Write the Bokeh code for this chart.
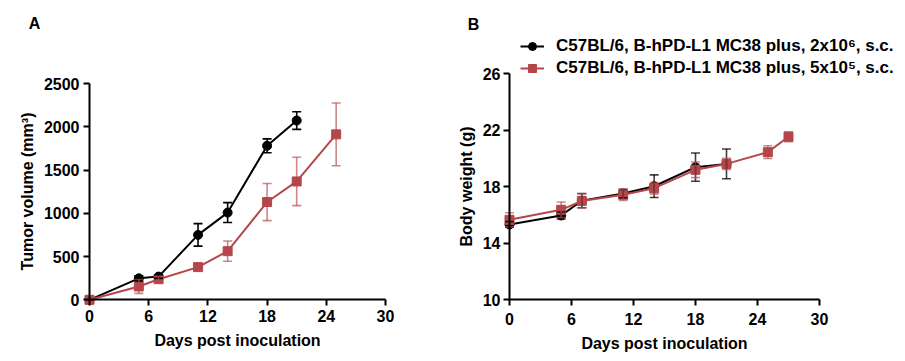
from bokeh.plotting import figure
from bokeh.models import (ColumnDataSource, Whisker, TeeHead, FixedTicker, Range1d,
                          Legend, LegendItem, Label, LinearAxis)
from bokeh.layouts import row
from bokeh.embed import file_html
from bokeh.resources import INLINE

# ---------------- data ----------------
x_ticks = [0, 6, 12, 18, 24, 30]
vol_ticks = [0, 500, 1000, 1500, 2000, 2500]
bw_ticks = [10, 14, 18, 22, 26]

label_hi = "C57BL/6, B-hPD-L1 MC38 plus, 2x10\u2076, s.c."
label_lo = "C57BL/6, B-hPD-L1 MC38 plus, 5x10\u2075, s.c."

# Panel A: tumor volume (mm^3)
days_a_hi = [0, 5, 7, 11, 14, 18, 21]
vol_hi = [0, 248, 268, 750, 1008, 1780, 2072]
vol_hi_err = [0, 30, 20, 130, 115, 80, 102]

days_a_lo = [0, 5, 7, 11, 14, 18, 21, 25]
vol_lo = [0, 154, 238, 378, 562, 1130, 1368, 1912]
vol_lo_err = [0, 80, 35, 35, 117, 215, 280, 362]

# Panel B: body weight (g)
days_b_hi = [0, 5, 7, 11, 14, 18, 21]
bw_hi = [15.31, 15.95, 17.0, 17.5, 18.02, 19.37, 19.6]
bw_hi_err = [0.2, 0.25, 0.5, 0.3, 0.8, 1.0, 1.05]

days_b_lo = [0, 5, 7, 11, 14, 18, 21, 25, 27]
bw_lo = [15.64, 16.35, 16.98, 17.41, 17.88, 19.18, 19.6, 20.43, 21.52]
bw_lo_err = [0.5, 0.55, 0.5, 0.4, 0.4, 0.55, 0.4, 0.45, 0.35]

# ---------------- style ----------------
FONT = "Liberation Sans"
BLACK = "#000000"
RED = "#B5474B"
FS = "16px"


def make_src(x, y, err):
    return ColumnDataSource(dict(x=x, y=y,
                                 lower=[a - b for a, b in zip(y, err)],
                                 upper=[a + b for a, b in zip(y, err)]))


def make_axis(ticks, bounds, loc, title, label_standoff, title_standoff):
    ax = LinearAxis(fixed_location=loc, bounds=bounds,
                    ticker=FixedTicker(ticks=ticks), axis_label=title)
    ax.axis_line_width = 2
    ax.axis_line_color = BLACK
    ax.major_tick_line_width = 2
    ax.major_tick_line_color = BLACK
    ax.major_tick_out = 6
    ax.major_tick_in = 0
    ax.minor_tick_line_color = None
    ax.major_label_text_font = FONT
    ax.major_label_text_font_style = "bold"
    ax.major_label_text_font_size = FS
    ax.major_label_text_color = BLACK
    ax.major_label_standoff = label_standoff
    ax.axis_label_text_font = FONT
    ax.axis_label_text_font_style = "bold"
    ax.axis_label_text_font_size = FS
    ax.axis_label_text_color = BLACK
    ax.axis_label_standoff = title_standoff
    return ax


def add_series(p, src, color, marker, err_alpha):
    w = Whisker(base="x", upper="upper", lower="lower", source=src, dimension="height",
                line_color=color, line_alpha=err_alpha, line_width=1.6, level="glyph",
                upper_head=TeeHead(size=9, line_color=color, line_alpha=err_alpha, line_width=1.6),
                lower_head=TeeHead(size=9, line_color=color, line_alpha=err_alpha, line_width=1.6))
    p.add_layout(w)
    ln = p.line("x", "y", source=src, line_color=color, line_width=2)
    sc = p.scatter("x", "y", source=src, marker=marker, size=9,
                   fill_color=color, line_color=color)
    return ln, sc


def frame_range(v0, v1, px0, px1, size):
    """Range so that value v0 sits at pixel px0 and v1 at px1 in a frame of `size` px."""
    k = (v1 - v0) / (px1 - px0)
    return Range1d(v0 - px0 * k, v0 + (size - px0) * k)


# ---------------- Panel A ----------------
WA, HA = 450, 356
pa = figure(width=WA, height=HA, output_backend="svg", toolbar_location=None,
            x_axis_type=None, y_axis_type=None, min_border=0,
            x_range=frame_range(0, 30, 89, 385, WA),
            y_range=frame_range(0, 2500, HA - 299.3, HA - 83, HA))
pa.outline_line_color = None
pa.add_layout(make_axis(x_ticks, (0, 30), 0, "Days post inoculation", 4, 7), "below")
pa.add_layout(make_axis(vol_ticks, (0, 2500), 0, "Tumor volume (mm\u00b3)", 4, 5), "left")

add_series(pa, make_src(days_a_hi, vol_hi, vol_hi_err), BLACK, "circle", 1.0)
add_series(pa, make_src(days_a_lo, vol_lo, vol_lo_err), RED, "square", 0.65)

pa.add_layout(Label(x=34, y=HA - 23, x_units="screen", y_units="screen", text="A",
                    text_font=FONT, text_font_style="bold", text_font_size=FS,
                    text_align="center", text_baseline="middle", text_color=BLACK))

# ---------------- Panel B ----------------
WB, HB = 455, 356
pb = figure(width=WB, height=HB, output_backend="svg", toolbar_location=None,
            x_axis_type=None, y_axis_type=None, min_border=0,
            x_range=frame_range(0, 30, 59, 369, WB),
            y_range=frame_range(10, 26, HB - 299, HB - 73, HB))
pb.outline_line_color = None
pb.add_layout(make_axis(x_ticks, (0, 30), 10, "Days post inoculation", 7, 7), "below")
pb.add_layout(make_axis(bw_ticks, (10, 26), 0, "Body weight (g)", 3, 5), "left")

l1, s1 = add_series(pb, make_src(days_b_hi, bw_hi, bw_hi_err), BLACK, "circle", 0.75)
l2, s2 = add_series(pb, make_src(days_b_lo, bw_lo, bw_lo_err), RED, "square", 0.65)

legend = Legend(items=[LegendItem(label=label_hi, renderers=[l1, s1]),
                       LegendItem(label=label_lo, renderers=[l2, s2])],
                location=(70, HB - 78), padding=0, margin=0, spacing=2,
                glyph_width=24, glyph_height=20, label_height=20, label_standoff=12,
                border_line_color=None, background_fill_alpha=0,
                label_text_font=FONT, label_text_font_style="bold",
                label_text_font_size="17px", label_text_color=BLACK)
pb.add_layout(legend)

pb.add_layout(Label(x=23, y=HB - 24, x_units="screen", y_units="screen", text="B",
                    text_font=FONT, text_font_style="bold", text_font_size=FS,
                    text_align="center", text_baseline="middle", text_color=BLACK))

layout = row(pa, pb)
open("out.html", "w").write(file_html(layout, INLINE))
